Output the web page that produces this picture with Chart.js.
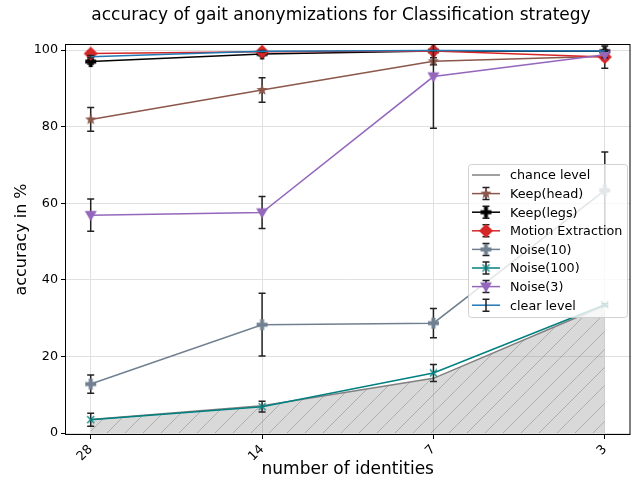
<!DOCTYPE html>
<html>
<head>
<meta charset="utf-8">
<script src="https://cdn.jsdelivr.net/npm/chart.js"></script>
<style>
  html, body { margin: 0; padding: 0; background: #fff; }
</style>
</head>
<body>
<canvas id="chart" width="639" height="482"></canvas>
<script>
// x categories (number of identities)
const identities = ['28', '14', '7', '3'];
const yTicks = [0, 20, 40, 60, 80, 100];

// series values (accuracy in %) and their error (+/-)
const chanceLevel = [3.57, 7.14, 14.29, 33.33];
const keepHead = [81.9, 89.6, 97.1, 98.4];
const keepHeadErr = [3.1, 3.2, 0.9, 0.8];
const keepLegs = [97.0, 99.0, 99.8, 99.7];
const keepLegsErr = [0.6, 0.5, 0.2, 0.3];
const motionExtraction = [99.1, 99.6, 99.8, 98.2];
const motionExtractionErr = [0.6, 0.4, 0.2, 2.9];
const noise10 = [12.8, 28.3, 28.7, 63.4];
const noise10Err = [2.4, 8.2, 3.8, 10.0];
const noise100 = [3.5, 6.9, 15.7, 33.5];
const noise100Err = [1.7, 1.4, 2.2, 0.3];
const noise3 = [56.9, 57.6, 93.1, 98.8];
const noise3Err = [4.2, 4.2, 13.5, 0.8];
const clearLevel = [98.3, 99.7, 99.9, 99.8];
const clearLevelErr = [0.3, 0.2, 0.1, 0.1];

// --- marker images (matplotlib-like shapes) ---
function drawShape(ctx, type, cx, cy, r, color) {
    ctx.save();
    ctx.fillStyle = color;
    ctx.strokeStyle = color;
    ctx.beginPath();
    if (type === 'star') {
        for (let i = 0; i < 10; i++) {
            const rr = i % 2 === 0 ? r : r * 0.42;
            const a = -Math.PI / 2 + i * Math.PI / 5;
            const px = cx + rr * Math.cos(a), py = cy + rr * Math.sin(a);
            i === 0 ? ctx.moveTo(px, py) : ctx.lineTo(px, py);
        }
        ctx.closePath();
        ctx.fill();
    } else if (type === 'plus') {
        const w = r * 0.36;
        ctx.moveTo(cx - w, cy - r); ctx.lineTo(cx + w, cy - r); ctx.lineTo(cx + w, cy - w);
        ctx.lineTo(cx + r, cy - w); ctx.lineTo(cx + r, cy + w); ctx.lineTo(cx + w, cy + w);
        ctx.lineTo(cx + w, cy + r); ctx.lineTo(cx - w, cy + r); ctx.lineTo(cx - w, cy + w);
        ctx.lineTo(cx - r, cy + w); ctx.lineTo(cx - r, cy - w); ctx.lineTo(cx - w, cy - w);
        ctx.closePath();
        ctx.fill();
    } else if (type === 'diamond') {
        ctx.moveTo(cx, cy - r); ctx.lineTo(cx + r, cy); ctx.lineTo(cx, cy + r); ctx.lineTo(cx - r, cy);
        ctx.closePath();
        ctx.fill();
    } else if (type === 'tri') {
        ctx.moveTo(cx - r, cy - r * 0.7); ctx.lineTo(cx + r, cy - r * 0.7); ctx.lineTo(cx, cy + r);
        ctx.closePath();
        ctx.fill();
    } else if (type === 'x') {
        ctx.lineWidth = 1.3;
        ctx.moveTo(cx - r, cy - r); ctx.lineTo(cx + r, cy + r);
        ctx.moveTo(cx + r, cy - r); ctx.lineTo(cx - r, cy + r);
        ctx.stroke();
    }
    ctx.restore();
}

function makeMarker(type, color, r) {
    const c = document.createElement('canvas');
    const s = Math.ceil(r * 2 + 2);
    c.width = s; c.height = s;
    drawShape(c.getContext('2d'), type, s / 2, s / 2, r, color);
    return c;
}

// hatched fill for the chance level area
function makeHatch() {
    const c = document.createElement('canvas');
    c.width = 18; c.height = 18;
    const g = c.getContext('2d');
    g.fillStyle = 'rgba(128,128,128,0.3)';
    g.fillRect(0, 0, 18, 18);
    g.strokeStyle = 'rgba(110,110,110,0.4)';
    g.lineWidth = 1;
    g.beginPath();
    g.moveTo(0, 18); g.lineTo(18, 0);
    g.moveTo(-9, 9); g.lineTo(9, -9);
    g.moveTo(9, 27); g.lineTo(27, 9);
    g.stroke();
    return g.createPattern(c, 'repeat');
}

const series = [
    {label: 'Keep(head)', values: keepHead, err: keepHeadErr, color: '#8c564b', marker: 'star', r: 6},
    {label: 'Keep(legs)', values: keepLegs, err: keepLegsErr, color: '#000000', marker: 'plus', r: 5.5},
    {label: 'Motion Extraction', values: motionExtraction, err: motionExtractionErr, color: '#d62728', marker: 'diamond', r: 7},
    {label: 'Noise(10)', values: noise10, err: noise10Err, color: '#708090', marker: 'plus', r: 5.5},
    {label: 'Noise(100)', values: noise100, err: noise100Err, color: '#008080', marker: 'x', r: 3.5},
    {label: 'Noise(3)', values: noise3, err: noise3Err, color: '#9467bd', marker: 'tri', r: 6},
    {label: 'clear level', values: clearLevel, err: clearLevelErr, color: '#1f77b4', marker: null, r: 0}
];
series.forEach(s => { s.img = s.marker ? makeMarker(s.marker, s.color, s.r) : null; });

const toPoints = arr => arr.map((v, i) => ({x: i, y: v}));

const datasets = [{
    label: 'chance level',
    data: toPoints(chanceLevel),
    borderColor: '#808080',
    borderWidth: 1.5,
    backgroundColor: makeHatch(),
    fill: 'origin',
    pointRadius: 0,
    tension: 0,
    order: 20
}];
series.forEach((s, i) => {
    datasets.push({
        label: s.label,
        data: toPoints(s.values),
        err: s.err,
        borderColor: s.color,
        borderWidth: 1.5,
        fill: false,
        pointStyle: s.img || false,
        pointRadius: s.img ? s.r : 0,
        tension: 0,
        clip: false,
        order: 10 - i
    });
});

const errorBarPlugin = {
    id: 'errorBars',
    beforeDatasetDraw(chart, args) {
        const ds = chart.data.datasets[args.index];
        if (!ds.err) return;
        const {ctx, chartArea, scales} = chart;
        ctx.save();
        ctx.beginPath();
        ctx.rect(chartArea.left, chartArea.top, chartArea.right - chartArea.left, chartArea.bottom - chartArea.top);
        ctx.clip();
        ctx.strokeStyle = '#222';
        ctx.lineWidth = 1.5;
        ds.data.forEach((p, i) => {
            const x = scales.x.getPixelForValue(p.x);
            const y1 = scales.y.getPixelForValue(p.y + ds.err[i]);
            const y2 = scales.y.getPixelForValue(p.y - ds.err[i]);
            ctx.beginPath();
            ctx.moveTo(x, y1); ctx.lineTo(x, y2);
            ctx.moveTo(x - 3.5, y1); ctx.lineTo(x + 3.5, y1);
            ctx.moveTo(x - 3.5, y2); ctx.lineTo(x + 3.5, y2);
            ctx.stroke();
        });
        ctx.restore();
    }
};

const decorPlugin = {
    id: 'decor',
    afterDraw(chart) {
        const {ctx, chartArea: a} = chart;
        ctx.save();
        // frame
        ctx.strokeStyle = '#000';
        ctx.lineWidth = 1;
        ctx.strokeRect(a.left + 0.5, a.top + 0.5, a.right - a.left - 1, a.bottom - a.top - 1);
        // titles
        ctx.fillStyle = '#000';
        ctx.textAlign = 'center';
        ctx.textBaseline = 'middle';
        ctx.font = '17px "DejaVu Sans"';
        ctx.fillText('accuracy of gait anonymizations for Classification strategy', 341, 16);
        ctx.fillText('number of identities', (a.left + a.right) / 2, 470);
        ctx.save();
        ctx.translate(22, (a.top + a.bottom) / 2);
        ctx.rotate(-Math.PI / 2);
        ctx.font = '16px "DejaVu Sans"';
        ctx.fillText('accuracy in %', 0, 0);
        ctx.restore();

        // legend
        const lx = 468, ly = 164, lw = 159, lh = 153;
        ctx.fillStyle = 'rgba(255,255,255,0.8)';
        ctx.strokeStyle = 'rgba(204,204,204,0.9)';
        ctx.beginPath();
        ctx.roundRect(lx + 0.5, ly + 0.5, lw, lh, 3);
        ctx.fill();
        ctx.stroke();
        ctx.font = '12.75px "DejaVu Sans"';
        ctx.textAlign = 'left';
        const rows = [{label: 'chance level', color: '#808080', chance: true}].concat(series);
        rows.forEach((s, i) => {
            const y = 175 + i * 18.6;
            const x0 = 472, x1 = 500, xc = 486;
            ctx.strokeStyle = s.color;
            ctx.lineWidth = 1.5;
            ctx.beginPath();
            ctx.moveTo(x0, y); ctx.lineTo(x1, y);
            ctx.stroke();
            if (!s.chance) {
                ctx.strokeStyle = '#222';
                ctx.beginPath();
                ctx.moveTo(xc, y - 6); ctx.lineTo(xc, y + 6);
                ctx.moveTo(xc - 3.5, y - 6); ctx.lineTo(xc + 3.5, y - 6);
                ctx.moveTo(xc - 3.5, y + 6); ctx.lineTo(xc + 3.5, y + 6);
                ctx.stroke();
                if (s.img) ctx.drawImage(s.img, xc - s.img.width / 2, y - s.img.height / 2);
            }
            ctx.fillStyle = '#000';
            ctx.fillText(s.label, 510, y + 1);
        });
        ctx.restore();
    }
};

new Chart(document.getElementById('chart'), {
    type: 'line',
    data: {datasets},
    options: {
        responsive: false,
        animation: false,
        devicePixelRatio: 1,
        layout: {padding: {top: 44, right: 7, left: 0, bottom: 0}},
        plugins: {legend: {display: false}, title: {display: false}, tooltip: {enabled: false}},
        scales: {
            x: {
                type: 'linear',
                min: -0.15,
                max: 3.15,
                afterBuildTicks: axis => { axis.ticks = identities.map((_, i) => ({value: i})); },
                afterFit: scale => { scale.height = 47; },
                ticks: {
                    callback: v => identities[v],
                    minRotation: 45,
                    maxRotation: 45,
                    padding: 3,
                    color: '#000',
                    font: {family: 'DejaVu Sans', size: 12.75}
                },
                grid: {color: '#e0e0e0', lineWidth: 1, tickLength: 4, tickColor: '#000'},
                border: {display: false}
            },
            y: {
                min: -0.5,
                max: 101.6,
                afterBuildTicks: axis => { axis.ticks = yTicks.map(v => ({value: v})); },
                afterFit: scale => { scale.width = 65; },
                ticks: {
                    padding: 3,
                    color: '#000',
                    font: {family: 'DejaVu Sans', size: 12.75}
                },
                grid: {color: '#e0e0e0', lineWidth: 1, tickLength: 4, tickColor: '#000'},
                border: {display: false}
            }
        }
    },
    plugins: [errorBarPlugin, decorPlugin]
});
</script>
</body>
</html>
